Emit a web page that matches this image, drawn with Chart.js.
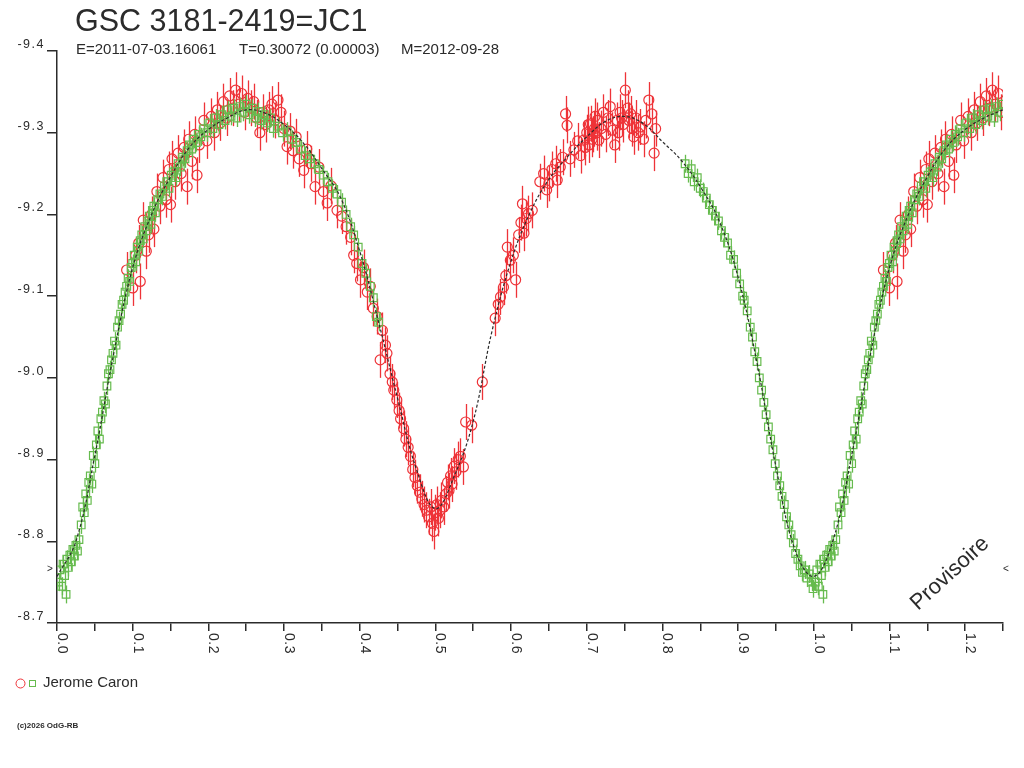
<!DOCTYPE html>
<html>
<head>
<meta charset="utf-8">
<title>GSC 3181-2419=JC1</title>
<script src="https://cdn.jsdelivr.net/npm/chart.js@4.4.1/dist/chart.umd.min.js"></script>
<style>
  html, body { margin: 0; padding: 0; background: #fff; }
  #wrap { width: 1024px; height: 768px; position: relative; }
</style>
</head>
<body>
<div id="wrap"><canvas id="lightCurve"></canvas></div>
<script>
// light curve of GSC 3181-2419, phased on T=0.30072 d

const TITLE = 'GSC 3181-2419=JC1';
const SUBTITLE = ['E=2011-07-03.16061', 'T=0.30072 (0.00003)', 'M=2012-09-28'];
const OBSERVER = 'Jerome Caron';

const PHASE_MAX = 1.25;
const MAG_TOP = -9.4;
const MAG_BOTTOM = -8.7;

// [phase, magnitude] - green squares
const greenObs = [
    [0.002,-8.750],[0.004,-8.765],[0.006,-8.745],[0.008,-8.772],[0.010,-8.758],[0.012,-8.735],
    [0.013,-8.778],[0.015,-8.768],[0.017,-8.783],[0.019,-8.775],[0.021,-8.790],[0.023,-8.782],
    [0.025,-8.795],[0.027,-8.788],[0.029,-8.802],[0.032,-8.820],[0.034,-8.842],[0.036,-8.835],
    [0.038,-8.858],[0.040,-8.850],[0.042,-8.872],[0.044,-8.880],[0.046,-8.870],[0.048,-8.905],
    [0.050,-8.895],[0.052,-8.918],[0.054,-8.935],[0.056,-8.925],[0.058,-8.950],[0.060,-8.958],
    [0.062,-8.972],[0.064,-8.968],[0.066,-8.990],[0.068,-9.005],[0.070,-9.010],[0.072,-9.022],
    [0.074,-9.030],[0.076,-9.045],[0.078,-9.040],[0.080,-9.062],[0.082,-9.070],[0.084,-9.078],
    [0.086,-9.090],[0.088,-9.095],[0.090,-9.105],[0.092,-9.112],[0.094,-9.122],[0.096,-9.118],
    [0.098,-9.135],[0.100,-9.140],[0.102,-9.150],[0.104,-9.142],[0.106,-9.160],[0.108,-9.155],
    [0.110,-9.168],[0.112,-9.175],[0.114,-9.170],[0.116,-9.185],[0.118,-9.180],[0.120,-9.192],
    [0.122,-9.198],[0.124,-9.188],[0.126,-9.205],[0.128,-9.210],[0.130,-9.202],[0.133,-9.218],
    [0.136,-9.225],[0.139,-9.222],[0.142,-9.235],[0.145,-9.240],[0.148,-9.232],[0.151,-9.248],
    [0.154,-9.252],[0.157,-9.245],[0.160,-9.262],[0.163,-9.258],[0.166,-9.270],[0.169,-9.268],
    [0.172,-9.278],[0.175,-9.285],[0.178,-9.280],[0.181,-9.292],[0.184,-9.288],[0.187,-9.298],
    [0.190,-9.295],[0.194,-9.305],[0.198,-9.300],[0.202,-9.312],[0.206,-9.305],[0.210,-9.318],
    [0.214,-9.310],[0.218,-9.322],[0.222,-9.315],[0.226,-9.328],[0.230,-9.320],[0.234,-9.330],
    [0.238,-9.318],[0.242,-9.332],[0.246,-9.325],[0.250,-9.335],[0.254,-9.322],[0.258,-9.330],
    [0.262,-9.318],[0.266,-9.326],[0.270,-9.315],[0.274,-9.322],[0.278,-9.312],[0.282,-9.318],
    [0.286,-9.305],[0.292,-9.308],[0.298,-9.300],[0.304,-9.302],[0.310,-9.292],[0.316,-9.288],
    [0.322,-9.280],[0.328,-9.272],[0.334,-9.268],[0.340,-9.262],[0.346,-9.255],[0.352,-9.248],
    [0.358,-9.240],[0.364,-9.232],[0.370,-9.225],[0.376,-9.215],[0.382,-9.200],[0.388,-9.185],
    [0.392,-9.175],[0.398,-9.160],[0.403,-9.140],[0.408,-9.128],[0.414,-9.112],[0.418,-9.098],
    [0.422,-9.075],[0.425,-9.068],
    [0.830,-9.262],[0.834,-9.250],[0.838,-9.256],[0.842,-9.240],[0.846,-9.245],[0.850,-9.232],
    [0.854,-9.228],[0.858,-9.220],[0.862,-9.212],[0.866,-9.205],[0.870,-9.198],[0.874,-9.192],
    [0.878,-9.180],[0.882,-9.172],[0.886,-9.165],[0.890,-9.150],[0.894,-9.145],[0.898,-9.128],
    [0.902,-9.115],[0.906,-9.100],[0.908,-9.095],[0.912,-9.082],[0.916,-9.062],[0.919,-9.050],
    [0.922,-9.032],[0.925,-9.020],[0.928,-9.000],[0.931,-8.985],[0.934,-8.970],[0.937,-8.955],
    [0.940,-8.940],[0.943,-8.925],[0.946,-8.912],[0.949,-8.895],[0.952,-8.880],[0.955,-8.868],
    [0.958,-8.855],[0.961,-8.845],[0.964,-8.830],[0.967,-8.820],[0.970,-8.808],[0.973,-8.798],
    [0.976,-8.785],[0.979,-8.778],[0.982,-8.770],[0.985,-8.762],[0.988,-8.765],[0.991,-8.755],
    [0.994,-8.760],[0.997,-8.750],[0.999,-8.742]
];

// [phase, magnitude] - red circles
const redObs = [
    [0.092,-9.132],[0.100,-9.110],[0.104,-9.150],[0.108,-9.165],[0.110,-9.118],[0.114,-9.193],
    [0.118,-9.155],[0.121,-9.175],[0.125,-9.200],[0.128,-9.182],[0.132,-9.228],[0.136,-9.210],
    [0.140,-9.245],[0.144,-9.218],[0.148,-9.255],[0.150,-9.212],[0.152,-9.268],[0.156,-9.240],
    [0.160,-9.275],[0.164,-9.250],[0.168,-9.282],[0.172,-9.234],[0.174,-9.292],[0.178,-9.265],
    [0.182,-9.298],[0.185,-9.248],[0.188,-9.285],[0.194,-9.315],[0.198,-9.290],
    [0.204,-9.320],[0.208,-9.300],[0.212,-9.328],[0.216,-9.312],[0.220,-9.338],[0.224,-9.318],
    [0.228,-9.345],[0.232,-9.330],[0.236,-9.352],[0.240,-9.335],[0.244,-9.348],[0.248,-9.325],
    [0.252,-9.342],[0.256,-9.330],[0.260,-9.338],[0.264,-9.318],[0.268,-9.300],[0.272,-9.325],
    [0.276,-9.310],[0.280,-9.328],[0.284,-9.335],[0.288,-9.315],[0.292,-9.340],[0.296,-9.325],
    [0.300,-9.305],[0.304,-9.283],[0.308,-9.302],[0.312,-9.278],[0.316,-9.295],[0.320,-9.268],
    [0.326,-9.254],[0.330,-9.280],[0.336,-9.262],[0.341,-9.234],[0.346,-9.258],[0.352,-9.228],
    [0.357,-9.214],[0.362,-9.235],[0.370,-9.205],
    [0.376,-9.198],[0.382,-9.185],[0.388,-9.172],[0.392,-9.150],[0.396,-9.140],[0.401,-9.120],
    [0.405,-9.135],[0.410,-9.105],[0.414,-9.112],[0.418,-9.085],[0.423,-9.075],[0.427,-9.022],
    [0.430,-9.058],[0.434,-9.040],[0.436,-9.030],[0.440,-9.005],[0.443,-8.995],[0.445,-8.985],
    [0.449,-8.973],[0.452,-8.960],[0.454,-8.950],[0.458,-8.938],[0.461,-8.925],[0.464,-8.915],
    [0.467,-8.904],[0.470,-8.888],[0.473,-8.878],[0.476,-8.868],[0.479,-8.860],[0.482,-8.852],
    [0.485,-8.845],[0.488,-8.838],[0.491,-8.830],[0.494,-8.842],[0.496,-8.822],[0.498,-8.812],
    [0.500,-8.835],[0.502,-8.845],[0.504,-8.828],[0.506,-8.838],[0.508,-8.850],[0.511,-8.842],
    [0.514,-8.858],[0.516,-8.872],[0.518,-8.862],[0.520,-8.880],[0.522,-8.870],[0.525,-8.892],
    [0.527,-8.885],[0.530,-8.900],
    [0.533,-8.904],[0.537,-8.891],[0.540,-8.946],[0.548,-8.942],[0.562,-8.995],[0.579,-9.073],
    [0.583,-9.090],[0.586,-9.099],[0.590,-9.111],[0.593,-9.125],[0.595,-9.160],[0.599,-9.144],
    [0.603,-9.150],[0.606,-9.120],[0.610,-9.175],[0.613,-9.190],[0.615,-9.213],[0.617,-9.177],
    [0.620,-9.195],[0.623,-9.201],[0.628,-9.205],[0.638,-9.240],[0.643,-9.250],[0.647,-9.230],
    [0.650,-9.238],[0.654,-9.255],[0.659,-9.262],[0.661,-9.242],[0.665,-9.258],[0.668,-9.270],
    [0.672,-9.323],[0.674,-9.309],[0.678,-9.268],[0.683,-9.279],[0.688,-9.290],[0.692,-9.272],
    [0.696,-9.291],[0.698,-9.282],[0.700,-9.300],[0.702,-9.310],[0.703,-9.285],[0.705,-9.311],
    [0.707,-9.292],[0.708,-9.298],[0.710,-9.305],[0.711,-9.320],[0.713,-9.300],[0.714,-9.315],
    [0.716,-9.291],[0.719,-9.305],[0.722,-9.325],[0.725,-9.298],[0.728,-9.318],[0.731,-9.332],
    [0.734,-9.303],[0.737,-9.285],[0.740,-9.315],[0.742,-9.300],[0.744,-9.325],[0.746,-9.318],
    [0.748,-9.310],[0.751,-9.352],[0.754,-9.330],[0.756,-9.315],[0.758,-9.323],[0.760,-9.305],
    [0.762,-9.295],[0.765,-9.318],[0.768,-9.300],[0.771,-9.307],[0.775,-9.292],[0.778,-9.315],
    [0.782,-9.340],[0.786,-9.323],[0.789,-9.275],[0.791,-9.305]
];

// fitted mean curve [phase, magnitude]
const fitCurve = [
    [0.000,-8.757],[0.025,-8.800],[0.050,-8.905],[0.075,-9.030],[0.100,-9.135],[0.125,-9.200],
    [0.150,-9.246],[0.175,-9.282],[0.200,-9.304],[0.225,-9.318],[0.250,-9.328],[0.275,-9.324],
    [0.300,-9.310],[0.325,-9.288],[0.350,-9.256],[0.375,-9.220],[0.400,-9.155],[0.425,-9.068],
    [0.450,-8.975],[0.475,-8.888],[0.500,-8.840],[0.525,-8.880],[0.550,-8.947],[0.575,-9.058],
    [0.600,-9.143],[0.625,-9.202],[0.650,-9.243],[0.675,-9.271],[0.700,-9.295],[0.725,-9.314],
    [0.750,-9.320],[0.775,-9.311],[0.800,-9.289],[0.825,-9.266],[0.850,-9.234],[0.875,-9.192],
    [0.900,-9.123],[0.925,-9.018],[0.950,-8.891],[0.975,-8.790],[1.000,-8.757]
];

// typical error bar half length (mag)
const greenErr = 0.011;
const redErr = 0.022;

const INK = '#2b2b2b';
const RED = '#EE3338';
const GREEN = '#66BB4E';
const FONT = '"Liberation Sans", Arial, sans-serif';

// the phase diagram repeats the start of the cycle after phase 1
function fold(obs, err) {
    const pts = [];
    obs.forEach(([p, m]) => {
        pts.push({ x: p, y: m, e: err });
        if (p > 0 && p + 1 <= PHASE_MAX + 1e-9) pts.push({ x: p + 1, y: m, e: err });
    });
    return pts.sort((a, b) => a.x - b.x);
}

// vertical error bars, drawn with each dataset
const errorBars = {
    id: 'errorBars',
    afterDatasetDraw(chart, args) {
        const ds = chart.data.datasets[args.index];
        if (!ds.barColor) return;
        const ctx = chart.ctx;
        const ys = chart.scales.y;
        const area = chart.chartArea;
        ctx.save();
        ctx.beginPath();
        ctx.rect(area.left, area.top, area.right - area.left, area.bottom - area.top);
        ctx.clip();
        ctx.setLineDash([]);
        ctx.globalAlpha = 1;
        ctx.strokeStyle = ds.barColor;
        ctx.lineWidth = 1.3;
        args.meta.data.forEach((pt, i) => {
            const d = ds.data[i];
            const px = Math.round(pt.x) + 0.5;
            ctx.beginPath();
            ctx.moveTo(px, ys.getPixelForValue(d.y - d.e));
            ctx.lineTo(px, ys.getPixelForValue(d.y + d.e));
            ctx.stroke();
        });
        ctx.restore();
    }
};

// titles, tick labels, legend and stamps
const decorations = {
    id: 'decorations',
    afterDraw(chart) {
        const ctx = chart.ctx;
        const xs = chart.scales.x;
        const ys = chart.scales.y;
        ctx.save();
        ctx.fillStyle = INK;
        ctx.textBaseline = 'alphabetic';

        ctx.font = '30.5px ' + FONT;
        ctx.fillText(TITLE, 75, 31);

        ctx.font = '15px ' + FONT;
        ctx.fillText(SUBTITLE[0], 76, 54);
        ctx.fillText(SUBTITLE[1], 239, 54);
        ctx.fillText(SUBTITLE[2], 401, 54);

        // y tick labels sit just above their tick
        ctx.font = '12.5px ' + FONT;
        ctx.letterSpacing = '1.5px';
        ctx.textAlign = 'right';
        ys.ticks.forEach(t => {
            const py = ys.getPixelForValue(t.value);
            ctx.fillText(t.value.toFixed(1), 45, py - 3);
        });

        // x tick labels, turned a quarter clockwise
        ctx.font = '14px ' + FONT;
        ctx.letterSpacing = '0.5px';
        ctx.textAlign = 'left';
        xs.ticks.forEach(t => {
            const r = Math.round(t.value * 100);
            if (r % 10 !== 0) return;
            const px = xs.getPixelForValue(t.value);
            ctx.save();
            ctx.translate(px + 1, 633);
            ctx.rotate(Math.PI / 2);
            ctx.fillText((r / 100).toFixed(1), 0, 0);
            ctx.restore();
        });
        ctx.letterSpacing = '0px';

        // phase markers at both ends of the curve
        ctx.font = '10px ' + FONT;
        ctx.fillText('>', 47, 572);
        ctx.fillText('<', 1003, 572);

        ctx.save();
        ctx.translate(918, 611);
        ctx.rotate(-42.5 * Math.PI / 180);
        ctx.font = '22px ' + FONT;
        ctx.fillText('Provisoire', 0, 0);
        ctx.restore();

        // legend
        ctx.lineWidth = 1;
        ctx.strokeStyle = RED;
        ctx.beginPath();
        ctx.arc(20.5, 683.5, 4.5, 0, Math.PI * 2);
        ctx.stroke();
        ctx.strokeStyle = GREEN;
        ctx.strokeRect(29.5, 680.5, 6, 6);
        ctx.font = '15px ' + FONT;
        ctx.fillText(OBSERVER, 43, 687);

        ctx.font = 'bold 8px ' + FONT;
        ctx.fillText('(c)2026 OdG-RB', 17, 728);
        ctx.restore();
    }
};

const curvePoints = fitCurve.map(([p, m]) => ({ x: p, y: m }))
    .concat(fitCurve.filter(([p]) => p > 0 && p + 1 <= PHASE_MAX + 1e-9).map(([p, m]) => ({ x: p + 1, y: m })));

const config = {
    type: 'scatter',
    data: {
        datasets: [
            {
                label: 'fit',
                type: 'line',
                data: curvePoints,
                borderColor: INK,
                borderWidth: 1.2,
                borderDash: [3, 2],
                pointRadius: 0,
                tension: 0.4,
                fill: false
            },
            {
                label: OBSERVER,
                data: fold(greenObs, greenErr),
                barColor: GREEN,
                pointStyle: 'rect',
                pointRadius: 5.4,
                borderWidth: 1.2,
                borderColor: GREEN,
                backgroundColor: 'rgba(0,0,0,0)'
            },
            {
                label: OBSERVER,
                data: fold(redObs, redErr),
                barColor: RED,
                pointStyle: 'circle',
                pointRadius: 5,
                borderWidth: 1.2,
                borderColor: RED,
                backgroundColor: 'rgba(0,0,0,0)'
            }
        ]
    },
    options: {
        responsive: true,
        maintainAspectRatio: false,
        animation: false,
        layout: { padding: { left: 47, right: 21, top: 51, bottom: 137 } },
        plugins: {
            legend: { display: false },
            title: { display: false },
            tooltip: { enabled: false }
        },
        scales: {
            x: {
                type: 'linear',
                min: 0,
                max: PHASE_MAX,
                ticks: { stepSize: 0.05, display: false, autoSkip: false },
                grid: { drawOnChartArea: false, tickLength: 8, color: INK, lineWidth: 1.5 },
                border: { color: INK, width: 1.5 },
                afterFit(scale) { scale.height = 8; }
            },
            y: {
                type: 'linear',
                reverse: true,
                min: MAG_TOP,
                max: MAG_BOTTOM,
                ticks: { stepSize: 0.1, display: false },
                grid: { drawOnChartArea: false, tickLength: 10, color: INK, lineWidth: 1.5 },
                border: { color: INK, width: 1.5 },
                afterFit(scale) { scale.width = 10; }
            }
        }
    },
    plugins: [errorBars, decorations]
};

const ctx = document.getElementById('lightCurve').getContext('2d');
const lightCurveChart = new Chart(ctx, config);
</script>
</body>
</html>
